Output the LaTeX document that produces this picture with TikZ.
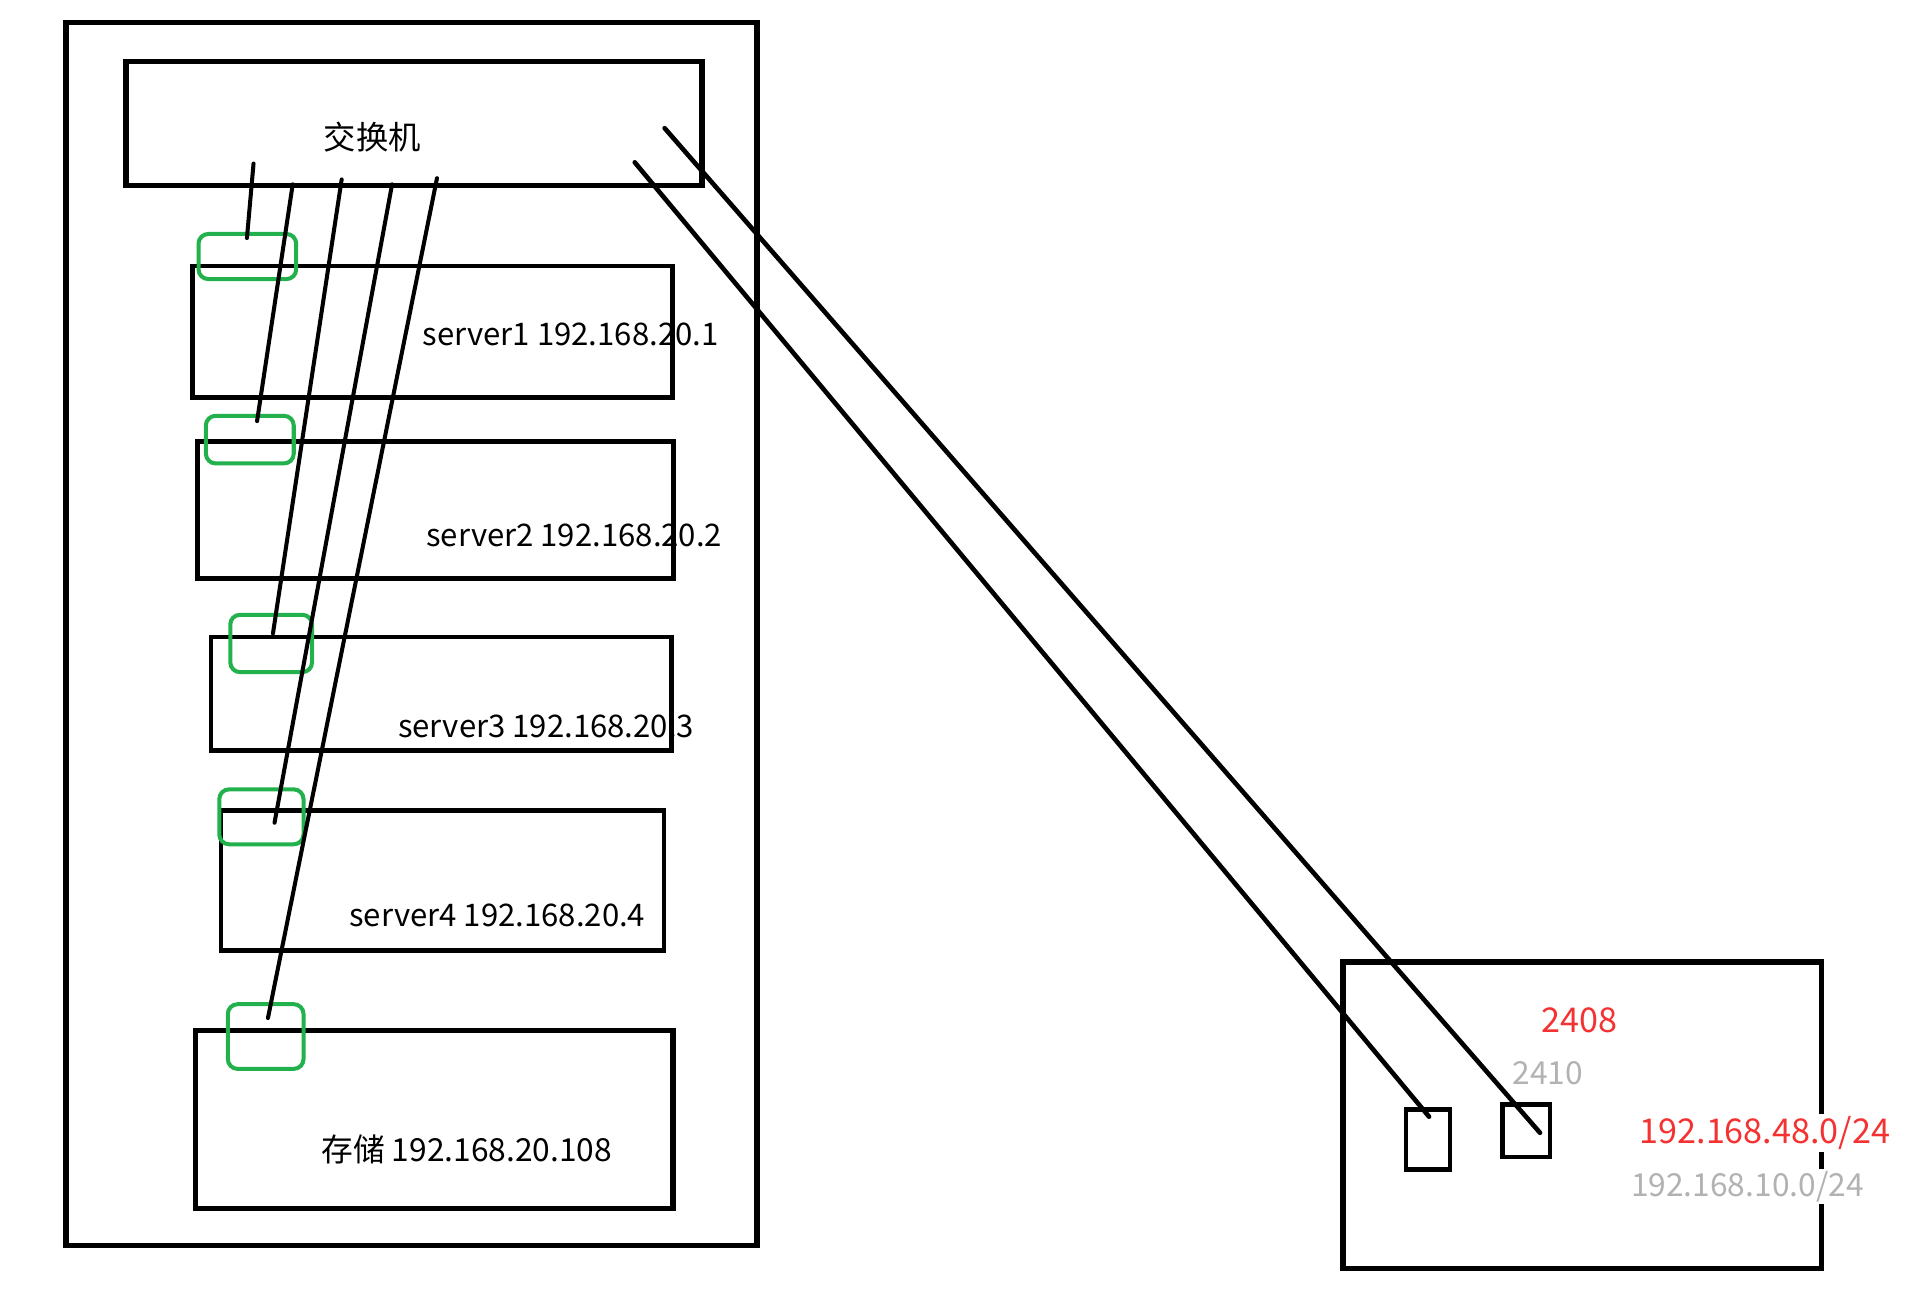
\documentclass[tikz,border=0pt]{standalone}
\usepackage{fontspec}
\setmainfont{Noto Sans CJK SC}
\definecolor{grn}{RGB}{34,177,76}
\definecolor{redtxt}{RGB}{245,50,50}
\begin{document}
\begin{tikzpicture}[x=1pt,y=-1pt,
  box/.style={draw=black,line width=4.4pt,inner sep=0pt,anchor=north west,fill=none},
  smallbox/.style={box,line width=3.8pt},
  port/.style={draw=grn,line width=3.3pt,rounded corners=8pt,inner sep=0pt,anchor=north west},
  wire/.style={line width=3.3pt,line cap=round},
  longwire/.style={line width=3.8pt,line cap=round},
  lbl/.style={font=\fontsize{25.5}{30}\selectfont,inner sep=0pt,anchor=west},
  redlbl/.style={lbl,font=\fontsize{28}{32}\selectfont,text=redtxt},
  blurlbl/.style={lbl,font=\fontsize{26}{30}\selectfont,text=black!30}]
\useasboundingbox (0,0) rectangle (1568,1062);

% boxes
\node[box,minimum width=566pt,minimum height=1002pt] (rack) at (52,16) {};
\node[box,minimum width=472pt,minimum height=102pt] (sw) at (101,48) {};
\node[smallbox,minimum width=393pt,minimum height=108pt] (s1) at (156,216) {};
\node[smallbox,minimum width=390pt,minimum height=112pt] (s2) at (160,360) {};
\node[smallbox,minimum width=377pt,minimum height=93pt] (s3) at (171,520) {};
\node[smallbox,minimum width=363pt,minimum height=115pt] (s4) at (179,662) {};
\node[box,minimum width=391pt,minimum height=146pt] (st) at (158,842) {};
\node[box,minimum width=392pt,minimum height=251pt] (rb) at (1098,786) {};
\node[smallbox,minimum width=36pt,minimum height=49pt] (r1) at (1150,907) {};
\node[smallbox,minimum width=39pt,minimum height=43pt] (r2) at (1229,903) {};

% green ports
\node[port,minimum width=80pt,minimum height=37pt] (g1) at (161,190) {};
\node[port,minimum width=72pt,minimum height=39pt] (g2) at (167,339) {};
\node[port,minimum width=67pt,minimum height=47pt] (g3) at (187,502) {};
\node[port,minimum width=69pt,minimum height=45pt] (g4) at (178,645) {};
\node[port,minimum width=62pt,minimum height=53pt] (g5) at (185,821) {};

% labels
\node[lbl,anchor=center,font=\fontsize{26.5}{30}\selectfont] (swl) at (305,112) {交换机};
\node[lbl] (l1) at (346,274) {server1 192.168.20.1};
\node[lbl] (l2) at (349,439) {server2 192.168.20.2};
\node[lbl] (l3) at (326,595) {server3 192.168.20.3};
\node[lbl] (l4) at (286,750) {server4 192.168.20.4};
\node[lbl,font=\fontsize{26}{30}\selectfont] (l5) at (263,942) {存储 192.168.20.108};
\node[redlbl] (n2408) at (1263,836) {2408};
\node[blurlbl] (n2410) at (1239,879) {2410};
\node[redlbl,fill=white,inner sep=2pt] (net48) at (1341,928) {192.168.48.0/24};
\node[blurlbl,fill=white,inner sep=2pt] (net10) at (1334,972) {192.168.10.0/24};

% wire end points
\coordinate (a1) at (207.7,134);  \coordinate (b1) at (202.3,195);
\coordinate (a2) at (239.8,151);  \coordinate (b2) at (210.6,345);
\coordinate (a3) at (279.9,147);  \coordinate (b3) at (223.6,519);
\coordinate (a4) at (321.2,151);  \coordinate (b4) at (224.9,674);
\coordinate (a5) at (358,146);    \coordinate (b5) at (219.5,834);
\coordinate (ua) at (520,133);    \coordinate (ea) at (1170.7,914.8);
\coordinate (ub) at (544.5,105);  \coordinate (eb) at (1261.6,928);

\draw[wire] (a1) -- (b1);
\draw[wire] (a2) -- (b2);
\draw[wire] (a3) -- (b3);
\draw[wire] (a4) -- (b4);
\draw[wire] (a5) -- (b5);
\draw[longwire] (ua) -- (ea);
\draw[longwire] (ub) -- (eb);
\end{tikzpicture}
\end{document}
